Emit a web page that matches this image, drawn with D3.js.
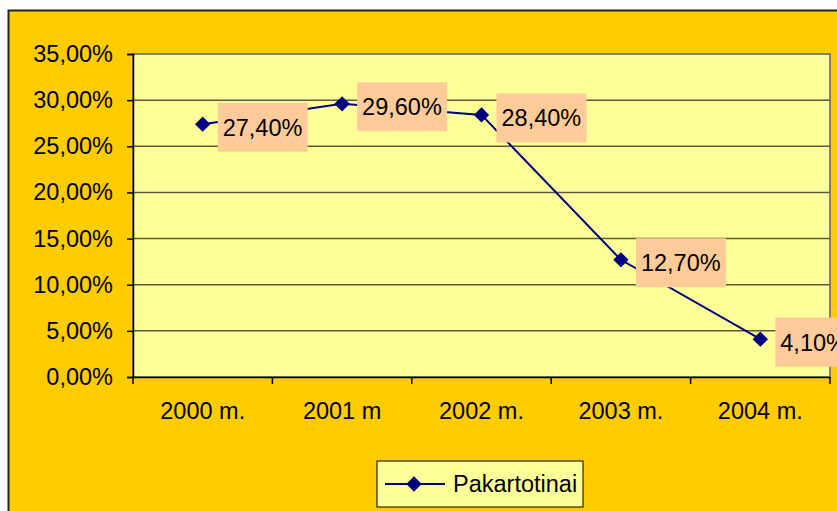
<!DOCTYPE html>
<html lang="lt">
<head>
<meta charset="utf-8">
<title>Pakartotinai</title>
<script src="https://cdn.jsdelivr.net/npm/d3@7"></script>
<style>
  body { margin: 0; background: #fff; }
  text { font-family: "Liberation Sans", Arial, sans-serif; }
</style>
</head>
<body>
<script>
// data
var years = ["2000 m.", "2001 m", "2002 m.", "2003 m.", "2004 m."];
var values = [27.4, 29.6, 28.4, 12.7, 4.1];
var yTicks = [0, 5, 10, 15, 20, 25, 30, 35];
var seriesName = "Pakartotinai";

var W = 837, H = 511;
var plot = {left: 133, top: 54, right: 830, bottom: 377};

var svg = d3.select("body").append("svg")
  .attr("width", W)
  .attr("height", H);

// chart area
svg.append("rect")
  .attr("x", 8.5).attr("y", 10.5)
  .attr("width", W + 10).attr("height", H + 10)
  .attr("fill", "#FFCC00")
  .attr("stroke", "#222")
  .attr("stroke-width", 2);

var x = d3.scaleBand()
  .domain(years)
  .range([plot.left, plot.right]);

var y = d3.scaleLinear()
  .domain([0, 35])
  .range([plot.bottom, plot.top]);

function fmt(v) {
  return v.toFixed(2).replace(".", ",") + "%";
}

// plot area
svg.append("rect")
  .attr("x", plot.left).attr("y", plot.top)
  .attr("width", plot.right - plot.left)
  .attr("height", plot.bottom - plot.top)
  .attr("fill", "#FFFF99")
  .attr("stroke", "#808080")
  .attr("stroke-width", 2);

// gridlines
svg.append("g")
  .selectAll("line")
  .data(yTicks.filter(function(d) { return d > 0 && d < 35; }))
  .enter()
  .append("line")
  .attr("x1", plot.left).attr("x2", plot.right)
  .attr("y1", function(d) { return y(d); })
  .attr("y2", function(d) { return y(d); })
  .attr("stroke", "#5a5a40")
  .attr("stroke-width", 1.5);

// y axis
var yAxis = d3.axisLeft(y)
  .tickValues(yTicks)
  .tickSize(6)
  .tickPadding(14)
  .tickFormat(fmt);

var gy = svg.append("g")
  .attr("transform", "translate(" + plot.left + ",0)")
  .call(yAxis);
gy.select(".domain").attr("stroke", "#000").attr("stroke-width", 1.5);
gy.selectAll(".tick line").attr("stroke", "#000").attr("stroke-width", 1.5);
gy.selectAll(".tick text")
  .attr("font-size", 23.5)
  .attr("fill", "#000");

// x axis
var xAxis = d3.axisBottom(x)
  .tickSize(0)
  .tickPadding(25);

var gx = svg.append("g")
  .attr("transform", "translate(0," + plot.bottom + ")")
  .call(xAxis);
gx.select(".domain").attr("stroke", "#000").attr("stroke-width", 1.5);
gx.selectAll(".tick text")
  .attr("font-size", 23.5)
  .attr("fill", "#000");

// x ticks at band edges
var edges = years.map(function(d) { return x(d); }).concat([plot.right]);
gx.selectAll(".edge")
  .data(edges)
  .enter()
  .append("line")
  .attr("class", "edge")
  .attr("x1", function(d) { return d; })
  .attr("x2", function(d) { return d; })
  .attr("y1", 0).attr("y2", 7)
  .attr("stroke", "#000")
  .attr("stroke-width", 1.5);

// line
var line = d3.line()
  .x(function(d, i) { return x(years[i]) + x.bandwidth() / 2; })
  .y(function(d) { return y(d); });

svg.append("path")
  .datum(values)
  .attr("d", line)
  .attr("fill", "none")
  .attr("stroke", "#000080")
  .attr("stroke-width", 2);

var diamond = d3.symbol().type(d3.symbolDiamond2).size(150);

svg.append("g")
  .selectAll("path")
  .data(values)
  .enter()
  .append("path")
  .attr("d", diamond)
  .attr("transform", function(d, i) {
    return "translate(" + (x(years[i]) + x.bandwidth() / 2) + "," + y(d) + ")";
  })
  .attr("fill", "#000080");

// data labels
var labels = svg.append("g")
  .selectAll("g")
  .data(values)
  .enter()
  .append("g")
  .attr("transform", function(d, i) {
    return "translate(" + (x(years[i]) + x.bandwidth() / 2 + 15) + "," + (y(d) + 3) + ")";
  });

labels.append("rect")
  .attr("x", 0).attr("y", -24.5)
  .attr("width", 90).attr("height", 49)
  .attr("fill", "#FFCC99");

labels.append("text")
  .attr("x", 5).attr("y", 8.5)
  .attr("font-size", 23.5)
  .attr("fill", "#000")
  .text(fmt);

// legend
var leg = svg.append("g").attr("transform", "translate(377,461)");
leg.append("rect")
  .attr("width", 206).attr("height", 46)
  .attr("fill", "#FFFF99")
  .attr("stroke", "#000")
  .attr("stroke-width", 1);
leg.append("line")
  .attr("x1", 8).attr("x2", 68)
  .attr("y1", 23).attr("y2", 23)
  .attr("stroke", "#000080")
  .attr("stroke-width", 2);
leg.append("path")
  .attr("d", diamond)
  .attr("transform", "translate(37,23)")
  .attr("fill", "#000080");
leg.append("text")
  .attr("x", 76).attr("y", 31)
  .attr("font-size", 23.5)
  .attr("fill", "#000")
  .text(seriesName);
</script>
</body>
</html>
